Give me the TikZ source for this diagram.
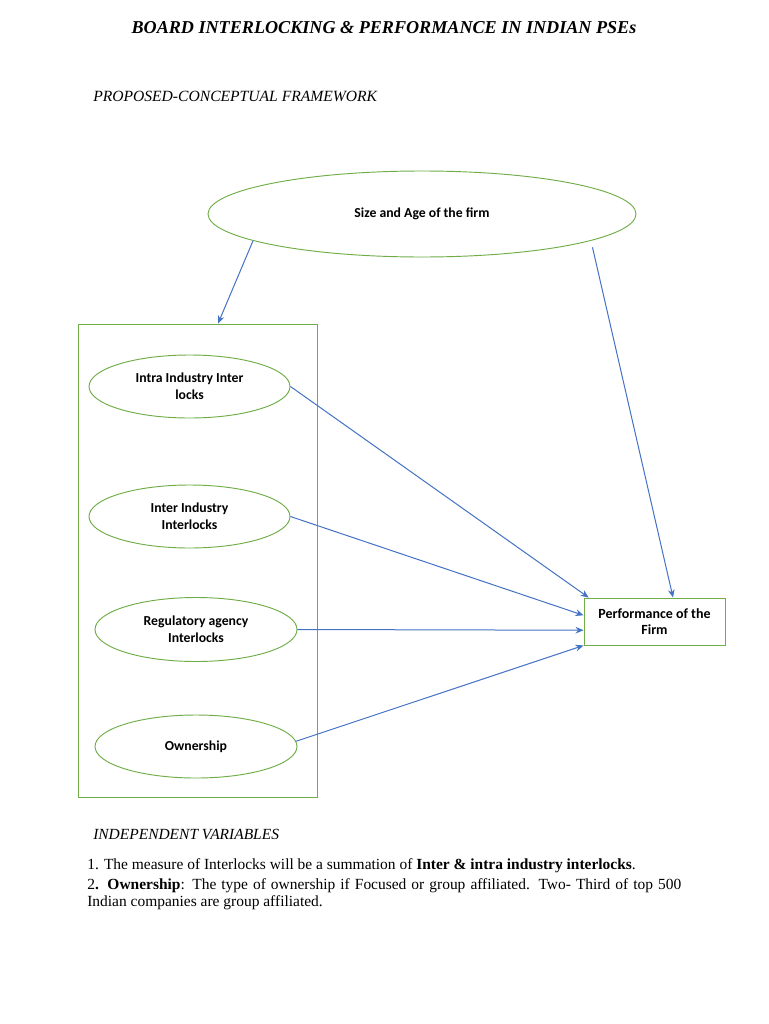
\documentclass[tikz,border=0pt]{standalone}
\usepackage{fontspec}
\setmainfont{Liberation Serif}
\newfontfamily\calfont{Carlito}
\usetikzlibrary{arrows.meta,shapes.geometric,calc}
\definecolor{ogreen}{HTML}{70AD47}
\definecolor{oblue}{HTML}{4472C4}
\begin{document}
\begin{tikzpicture}[x=0.75pt,y=-0.75pt,
  oval/.style={ellipse,draw=ogreen,line width=0.7pt,inner sep=0pt,align=center,
    font=\calfont\bfseries\fontsize{10.3}{12.8}\selectfont},
  gbox/.style={rectangle,draw=ogreen,line width=0.7pt,inner sep=0pt},
  link/.style={draw=oblue,line width=0.75pt,-{Stealth[length=6pt,width=5pt]}},
  bodytext/.style={anchor=base west,inner sep=0pt,font=\fontsize{11.6}{14}\selectfont}]
\useasboundingbox (0,0) rectangle (768,1024);
\fill[white] (0,0) rectangle (768,1024);

\node[anchor=base,inner sep=0pt,font=\fontsize{13.6}{16}\selectfont\bfseries\itshape] (title) at (384,34)
  {BOARD INTERLOCKING \& PERFORMANCE IN INDIAN PSEs};
\node[bodytext,font=\fontsize{11.7}{14}\selectfont\itshape] (sub) at (93,102) {PROPOSED-CONCEPTUAL FRAMEWORK};

\node[oval,minimum width=321pt,minimum height=64.5pt] (top) at (422,214) {Size and Age of the firm};
\node[gbox,minimum width=179.25pt,minimum height=354.75pt] (box) at (197.5,560.5) {};
\node[oval,minimum width=150.75pt,minimum height=47.25pt] (e1) at (189.5,386.5) {Intra Industry Inter\\locks};
\node[oval,minimum width=150.75pt,minimum height=47.25pt] (e2) at (189.5,516.5) {Inter Industry\\Interlocks};
\node[oval,minimum width=151.5pt,minimum height=48pt] (e3) at (196,629.5) {Regulatory agency\\Interlocks};
\node[oval,minimum width=151.5pt,minimum height=47.25pt] (e4) at (196,746.5) {Ownership};
\node[gbox,minimum width=105.75pt,minimum height=35.25pt,align=center,
  font=\calfont\bfseries\fontsize{10.5}{12.5}\selectfont] (perf) at (654.5,621.5) {Performance of the\\Firm};

\draw[link] (top.189) -- ([xshift=15.4pt]box.north);
\draw[link,shorten <=5pt] (top.351) -- ([xshift=13.9pt]perf.north);
\draw[link] (e1.east) -- (perf.160);
\draw[link] (e2.east) -- (perf.175);
\draw[link] (e3.east) -- (perf.187);
\draw[link] (e4.3) -- (perf.south west);

\node[bodytext,font=\fontsize{11.6}{14}\selectfont\itshape] (iv) at (93,839) {INDEPENDENT VARIABLES};
\node[bodytext] (l1) at (87,869) {1. The measure of Interlocks will be a summation of \textbf{Inter \& intra industry interlocks}.};
\node[bodytext] (l2) at (87,889) {\makebox[445.5pt][s]{2\textbf{. Ownership}: The type of ownership if Focused or group affiliated. Two- Third of top 500}};
\node[bodytext] (l3) at (87,906) {Indian companies are group affiliated.};
\end{tikzpicture}
\end{document}
